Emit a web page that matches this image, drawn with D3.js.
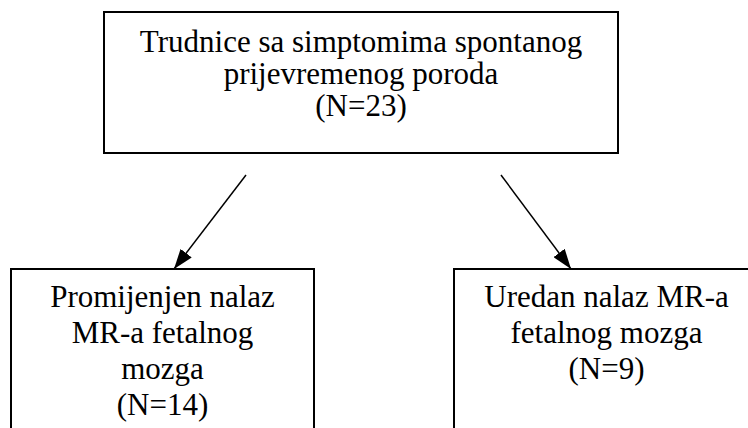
<!DOCTYPE html>
<html>
<head>
<meta charset="utf-8">
<script src="https://cdn.jsdelivr.net/npm/d3@7"></script>
<style>
  html, body { margin: 0; padding: 0; background: #fff; }
  svg { display: block; }
</style>
</head>
<body>
<svg id="chart" width="748" height="428"></svg>
<script>
// ---- data ----
const topLines = ["Trudnice sa simptomima spontanog", "prijevremenog poroda"];
const topN = 23;
const leftLines = ["Promijenjen nalaz", "MR-a fetalnog", "mozga"];
const leftN = 14;
const rightLines = ["Uredan nalaz MR-a", "fetalnog mozga"];
const rightN = 9;

// ---- layout ----
const boxes = [
  { lines: topLines.concat([`(N=${topN})`]), x: 104, y: 12, w: 514, h: 141, tx: 361, ty: 52, lh: 32 },
  { lines: leftLines.concat([`(N=${leftN})`]), x: 11, y: 269, w: 303, h: 200, tx: 162.5, ty: 307, lh: 36 },
  { lines: rightLines.concat([`(N=${rightN})`]), x: 454, y: 269, w: 305, h: 200, tx: 606.5, ty: 307, lh: 36 }
];
const arrows = [
  { x1: 246, y1: 175, x2: 174, y2: 269 },
  { x1: 501, y1: 175, x2: 571, y2: 269 }
];

const svg = d3.select("#chart");

const defs = svg.append("defs");
defs.append("marker")
  .attr("id", "arrowhead")
  .attr("viewBox", "0 0 20 14")
  .attr("refX", 20).attr("refY", 7)
  .attr("markerWidth", 20).attr("markerHeight", 14)
  .attr("markerUnits", "userSpaceOnUse")
  .attr("orient", "auto")
  .append("path")
  .attr("d", "M0,0 L20,7 L0,14 Z")
  .attr("fill", "#000");

const g = svg.selectAll("g.box").data(boxes).join("g").attr("class", "box");
g.append("rect")
  .attr("x", d => d.x).attr("y", d => d.y)
  .attr("width", d => d.w).attr("height", d => d.h)
  .attr("fill", "#fff").attr("stroke", "#000").attr("stroke-width", 2);

g.each(function(d) {
  d3.select(this).selectAll("text").data(d.lines).join("text")
    .attr("x", d.tx)
    .attr("y", (l, i) => d.ty + i * d.lh)
    .attr("text-anchor", "middle")
    .attr("font-family", "'Liberation Serif', 'Times New Roman', serif")
    .attr("font-size", 31)
    .attr("fill", "#000")
    .text(l => l);
});

svg.selectAll("line.arrow").data(arrows).join("line")
  .attr("class", "arrow")
  .attr("x1", d => d.x1).attr("y1", d => d.y1)
  .attr("x2", d => d.x2).attr("y2", d => d.y2)
  .attr("stroke", "#000").attr("stroke-width", 1.5)
  .attr("marker-end", "url(#arrowhead)");
</script>
</body>
</html>
